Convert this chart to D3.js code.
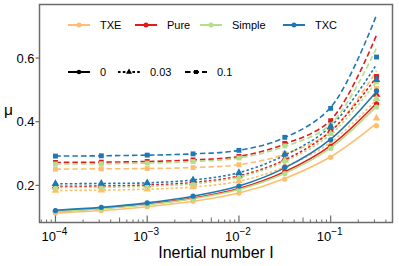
<!DOCTYPE html>
<html>
<head>
<meta charset="utf-8">
<script src="https://d3js.org/d3.v7.min.js"></script>
<style>
  body { margin: 0; background: #fff; }
  text { font-family: "Liberation Sans", Arial, sans-serif; fill: #000; }
</style>
</head>
<body>
<script>
// inertial numbers (half decades)
const inertia = [1e-4, 3.16e-4, 1e-3, 3.16e-3, 1e-2, 3.16e-2, 1e-1, 3.16e-1];
const models = ["TXE", "Pure", "Simple", "TXC"];
const levels = ["0", "0.03", "0.1"];
const colors = ["#fdbf6f", "#e31a1c", "#b2df8a", "#1f78b4"];
const xTicks = [1e-4, 1e-3, 1e-2, 1e-1];
const xTickExp = ["−4", "−3", "−2", "−1"];
const yTicks = [0.2, 0.4, 0.6];

// fitted curves, one row per model (TXE, Pure, Simple, TXC)
const fit0 = [
  [0.113, 0.121, 0.133, 0.150, 0.176, 0.222, 0.290, 0.395],
  [0.119, 0.128, 0.141, 0.160, 0.190, 0.243, 0.325, 0.458],
  [0.118, 0.127, 0.139, 0.158, 0.187, 0.238, 0.318, 0.448],
  [0.122, 0.131, 0.145, 0.166, 0.198, 0.255, 0.345, 0.495]
];
const fit003 = [
  [0.184, 0.185, 0.188, 0.195, 0.213, 0.258, 0.335, 0.470],
  [0.197, 0.198, 0.201, 0.209, 0.230, 0.280, 0.370, 0.540],
  [0.193, 0.194, 0.197, 0.205, 0.226, 0.275, 0.360, 0.525],
  [0.205, 0.206, 0.208, 0.217, 0.240, 0.295, 0.385, 0.580]
];
const fit01 = [
  [0.251, 0.252, 0.253, 0.256, 0.265, 0.298, 0.370, 0.560],
  [0.272, 0.273, 0.275, 0.280, 0.291, 0.330, 0.405, 0.672],
  [0.267, 0.268, 0.270, 0.275, 0.286, 0.322, 0.392, 0.632],
  [0.292, 0.293, 0.295, 0.299, 0.310, 0.350, 0.445, 0.735]
];
// measured points
const pts0 = [
  [0.113, 0.121, 0.133, 0.150, 0.176, 0.220, 0.288, 0.387],
  [0.119, 0.128, 0.141, 0.160, 0.190, 0.243, 0.322, 0.456],
  [0.117, 0.126, 0.139, 0.158, 0.186, 0.237, 0.316, 0.446],
  [0.121, 0.131, 0.145, 0.166, 0.198, 0.257, 0.343, 0.497]
];
const pts003 = [
  [0.184, 0.185, 0.188, 0.195, 0.214, 0.262, 0.330, 0.411],
  [0.197, 0.198, 0.201, 0.209, 0.231, 0.283, 0.372, 0.485],
  [0.193, 0.194, 0.197, 0.205, 0.226, 0.278, 0.362, 0.472],
  [0.205, 0.206, 0.208, 0.217, 0.240, 0.298, 0.385, 0.532]
];
const pts01 = [
  [0.251, 0.252, 0.253, 0.256, 0.265, 0.300, 0.375, 0.505],
  [0.272, 0.273, 0.275, 0.280, 0.291, 0.332, 0.403, 0.542],
  [0.267, 0.268, 0.270, 0.275, 0.286, 0.324, 0.390, 0.525],
  [0.292, 0.293, 0.295, 0.299, 0.310, 0.351, 0.442, 0.603]
];

const W = 399, H = 266;
const mLeft = 39.5, mRight = 392.5, mTop = 4.5, mBottom = 222.5;

const svg = d3.select("body").append("svg")
  .attr("width", W).attr("height", H);

const x = d3.scaleLog().domain([6.7e-5, 0.472]).range([mLeft, mRight]);
const y = d3.scaleLinear().domain([0.0835, 0.768]).range([mBottom, mTop]);

const fits = [fit0, fit003, fit01];
const pts = [pts0, pts003, pts01];
const dashes = [null, "2.6,2.2", "5.5,3"];
const symbols = [d3.symbolCircle, d3.symbolTriangle, d3.symbolSquare];
const symSize = [22, 26, 24];

const line = d3.line()
  .x((d, i) => x(inertia[i]))
  .y(d => y(d))
  .curve(d3.curveCatmullRom.alpha(0.5));

const plot = svg.append("g");
models.forEach((m, mi) => {
  levels.forEach((l, li) => {
    plot.append("path")
      .attr("d", line(fits[li][mi]))
      .attr("fill", "none")
      .attr("stroke", colors[mi])
      .attr("stroke-width", 1.6)
      .attr("stroke-dasharray", dashes[li]);
    plot.selectAll(null)
      .data(pts[li][mi])
      .enter().append("path")
      .attr("d", d3.symbol(symbols[li], symSize[li]))
      .attr("transform", (d, i) => `translate(${x(inertia[i])},${y(d)})`)
      .attr("fill", colors[mi]);
  });
});

// frame
svg.append("rect")
  .attr("x", mLeft).attr("y", mTop)
  .attr("width", mRight - mLeft).attr("height", mBottom - mTop)
  .attr("fill", "none").attr("stroke", "#6b6b6b").attr("stroke-width", 1.5);

// x ticks (inward)
const minor = [];
for (let e = -5; e <= -1; e++) {
  for (let k = 2; k <= 9; k++) {
    const v = k * Math.pow(10, e);
    if (v > x.domain()[0] && v < x.domain()[1]) minor.push({ v: v, k: k });
  }
}
svg.append("g").selectAll("line").data(minor).enter().append("line")
  .attr("x1", d => x(d.v)).attr("x2", d => x(d.v))
  .attr("y1", mBottom).attr("y2", d => mBottom - (d.k === 5 ? 5 : 3))
  .attr("stroke", "#6b6b6b").attr("stroke-width", 1);
svg.append("g").selectAll("line").data(xTicks).enter().append("line")
  .attr("x1", d => x(d)).attr("x2", d => x(d))
  .attr("y1", mBottom).attr("y2", mBottom - 7)
  .attr("stroke", "#6b6b6b").attr("stroke-width", 1.2);

const xl = svg.append("g").selectAll("text").data(xTicks).enter().append("text")
  .attr("x", d => x(d) - 1).attr("y", 240.5)
  .attr("text-anchor", "middle")
  .attr("font-size", 13);
xl.append("tspan").text("10");
xl.append("tspan").attr("dy", -5.5).attr("font-size", 10).text((d, i) => xTickExp[i]);

// y ticks (outward)
svg.append("g").selectAll("line").data(yTicks).enter().append("line")
  .attr("x1", mLeft - 4).attr("x2", mLeft)
  .attr("y1", d => y(d)).attr("y2", d => y(d))
  .attr("stroke", "#6b6b6b").attr("stroke-width", 1.2);
svg.append("g").selectAll("text").data(yTicks).enter().append("text")
  .attr("x", mLeft - 5).attr("y", d => y(d) + 4.5)
  .attr("text-anchor", "end").attr("font-size", 13)
  .text(d => d.toFixed(1));

// axis labels
svg.append("text").attr("x", 216).attr("y", 257.5)
  .attr("text-anchor", "middle").attr("font-size", 16)
  .text("Inertial number I");
svg.append("text").attr("x", 4).attr("y", 115)
  .attr("font-size", 15.5).text("μ");

// legend: models
const legX = [68, 135, 200, 283];
models.forEach((m, mi) => {
  const g = svg.append("g").attr("transform", `translate(${legX[mi]},25)`);
  g.append("line").attr("x1", 0).attr("x2", 22)
    .attr("stroke", colors[mi]).attr("stroke-width", 2);
  g.append("path").attr("d", d3.symbol(d3.symbolCircle, 20))
    .attr("transform", "translate(11,0)").attr("fill", colors[mi]);
  g.append("text").attr("x", 32).attr("y", 4).attr("font-size", 11).text(m);
});

// legend: levels
const levX = [68, 118, 185];
levels.forEach((l, li) => {
  const g = svg.append("g").attr("transform", `translate(${levX[li]},72)`);
  g.append("line").attr("x1", 0).attr("x2", 22)
    .attr("stroke", "#000").attr("stroke-width", 2)
    .attr("stroke-dasharray", dashes[li]);
  g.append("path").attr("d", d3.symbol(symbols[li], 16))
    .attr("transform", "translate(11,0)").attr("fill", "#000");
  g.append("text").attr("x", 32).attr("y", 4).attr("font-size", 11).text(l);
});
</script>
</body>
</html>
